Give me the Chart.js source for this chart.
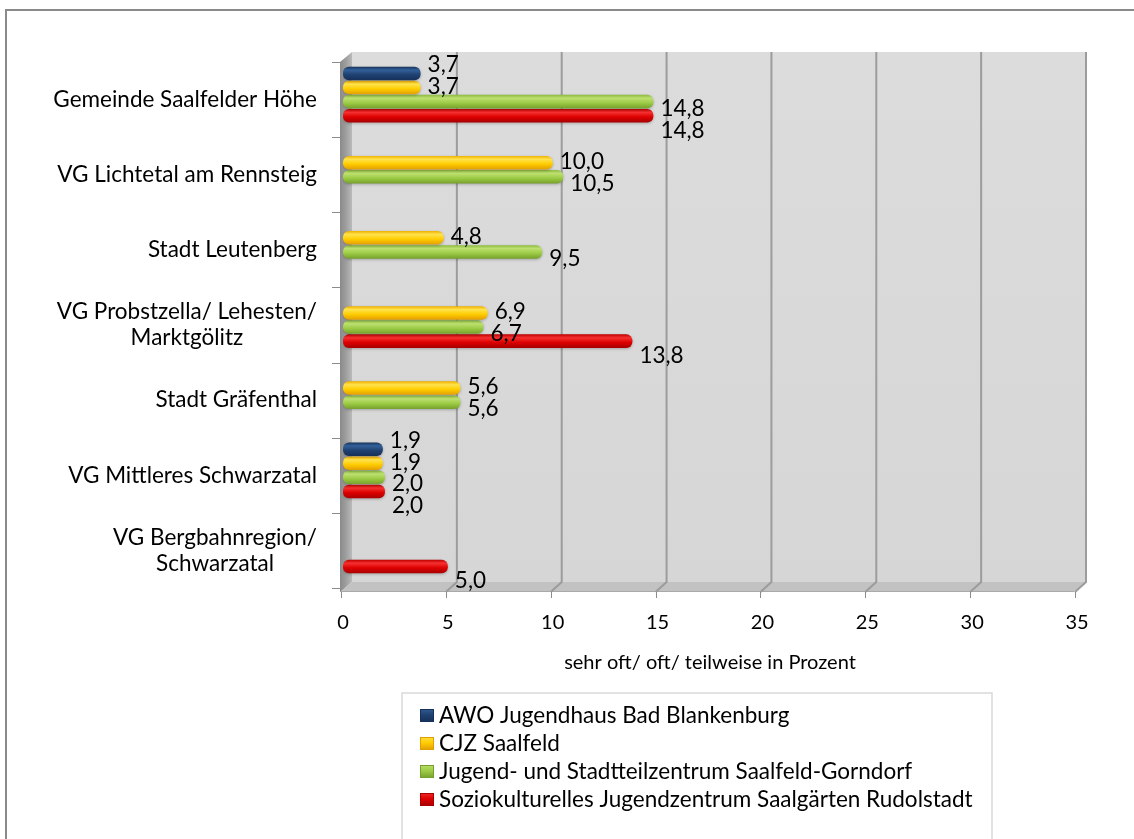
<!DOCTYPE html>
<html>
<head>
<meta charset="utf-8">
<script src="https://cdn.jsdelivr.net/npm/chart.js@4.4.0/dist/chart.umd.min.js"></script>
<style>
  html, body { margin: 0; padding: 0; background: #fff; overflow: hidden; }
  #wrap { width: 1134px; height: 839px; position: relative; }
</style>
</head>
<body>
<div id="wrap"><canvas id="c" width="1134" height="839"></canvas></div>
<script>
// Regions (top to bottom)
const categories = [
  'Gemeinde Saalfelder Höhe',
  'VG Lichtetal am Rennsteig',
  'Stadt Leutenberg',
  ['VG Probstzella/ Lehesten/', 'Marktgölitz'],
  'Stadt Gräfenthal',
  'VG Mittleres Schwarzatal',
  ['VG Bergbahnregion/', 'Schwarzatal']
];

// Youth centres
const seriesNames = [
  'AWO Jugendhaus Bad Blankenburg',
  'CJZ Saalfeld',
  'Jugend- und Stadtteilzentrum Saalfeld-Gorndorf',
  'Soziokulturelles Jugendzentrum Saalgärten Rudolstadt'
];

// Share "sehr oft / oft / teilweise" in percent
const awoValues         = [3.7, null, null, null, null, 1.9, null];
const cjzValues         = [3.7, 10.0, 4.8, 6.9, 5.6, 1.9, null];
const gorndorfValues    = [14.8, 10.5, 9.5, 6.7, 5.6, 2.0, null];
const saalgaertenValues = [14.8, null, null, 13.8, null, 2.0, 5.0];

const xTickValues = [0, 5, 10, 15, 20, 25, 30, 35];
const xAxisTitle = 'sehr oft/ oft/ teilweise in Prozent';

// ---- styling ----
const FONT = 'Lato, "Open Sans", sans-serif';
const TEXT_SIZE = 22.5;
const AXIS_SIZE = 20;
const barShades = [
  ['#173158', '#32609a', '#1f4170', '#15305a'],  // navy
  ['#eeb000', '#ffe34d', '#ffcc00', '#e29e00'],  // yellow
  ['#8cbb3e', '#bde070', '#9ccb45', '#76a02c'],  // green
  ['#c00000', '#f53030', '#dc0000', '#a80000']   // red
];

function barFill(shade) {
  return (context) => {
    const el = context.element;
    if (!el || !isFinite(el.y) || !el.height) return shade[2];
    const top = el.y - el.height / 2, bottom = el.y + el.height / 2;
    const g = context.chart.ctx.createLinearGradient(0, top, 0, bottom);
    g.addColorStop(0, shade[0]);
    g.addColorStop(0.25, shade[1]);
    g.addColorStop(0.6, shade[2]);
    g.addColorStop(1, shade[3]);
    return g;
  };
}

const fmt = (v) => v.toFixed(1).replace('.', ',');

// Depth offsets of the 3D box relative to the plotting plane
const BACK = { dx: 9, dy: -5 };
const FRONT = { dx: -3, dy: 5 };

const boxPlugin = {
  id: 'box3d',
  beforeDraw(chart) {
    const { ctx, chartArea: a } = chart;
    const xs = chart.scales.x;
    ctx.save();
    // outer frame
    ctx.strokeStyle = '#8a8a8a';
    ctx.lineWidth = 2;
    ctx.strokeRect(6, 10, 1300, 1000);

    const bl = a.left + BACK.dx, bt = a.top + BACK.dy;
    const br = a.right + BACK.dx - 1, bb = a.bottom - 1;
    const fl = a.left + FRONT.dx, ft = a.top + FRONT.dy;
    const fb = a.bottom + 9, fr = a.right - 3;

    // back wall
    const wall = ctx.createLinearGradient(0, bt, 0, bb);
    wall.addColorStop(0, '#dcdcdc');
    wall.addColorStop(1, '#d6d6d6');
    ctx.fillStyle = wall;
    ctx.fillRect(bl, bt, br - bl, bb - bt);

    // floor
    ctx.fillStyle = '#c2c2c2';
    ctx.beginPath();
    ctx.moveTo(bl, bb); ctx.lineTo(br, bb); ctx.lineTo(br, bb + 2);
    ctx.lineTo(fr, fb); ctx.lineTo(fl, fb); ctx.closePath();
    ctx.fill();
    ctx.strokeStyle = '#a9a9a9';
    ctx.lineWidth = 1;
    ctx.beginPath(); ctx.moveTo(fl, fb - 0.5); ctx.lineTo(fr, fb - 0.5); ctx.stroke();

    // side wall
    const side = ctx.createLinearGradient(fl, 0, bl, 0);
    side.addColorStop(0, '#8a8a8a');
    side.addColorStop(0.45, '#9c9c9c');
    side.addColorStop(1, '#bababa');
    ctx.fillStyle = side;
    ctx.beginPath();
    ctx.moveTo(fl, ft); ctx.lineTo(bl, bt); ctx.lineTo(bl, bb); ctx.lineTo(fl, fb);
    ctx.closePath();
    ctx.fill();

    // gridlines on the back wall and their run across the floor
    xTickValues.forEach((v) => {
      if (v === 0) return;
      const px = xs.getPixelForValue(v);
      ctx.strokeStyle = '#9c9c9c';
      ctx.lineWidth = 2;
      ctx.beginPath();
      ctx.moveTo(px + BACK.dx, bt);
      ctx.lineTo(px + BACK.dx, bb);
      ctx.lineTo(px + FRONT.dx + 1, fb);
      ctx.stroke();
    });

    // tick marks on the front edge
    ctx.strokeStyle = '#8c8c8c';
    ctx.lineWidth = 1;
    xTickValues.forEach((v) => {
      const px = Math.round(xs.getPixelForValue(v) + FRONT.dx + 1) + 0.5;
      ctx.beginPath(); ctx.moveTo(px, fb); ctx.lineTo(px, fb + 6); ctx.stroke();
    });
    const n = categories.length;
    const step = (a.bottom - a.top) / n;
    for (let i = 0; i <= n; i++) {
      const y = Math.round(a.top + FRONT.dy + i * step) + 0.5;
      ctx.beginPath(); ctx.moveTo(fl - 8, y); ctx.lineTo(fl, y); ctx.stroke();
    }
    ctx.restore();
  },
  beforeDatasetsDraw(chart) {
    const ctx = chart.ctx;
    ctx.save();
    ctx.shadowColor = 'rgba(0,0,0,0.25)';
    ctx.shadowBlur = 3;
    ctx.shadowOffsetY = 1;
  },
  afterDatasetsDraw(chart) {
    const { ctx } = chart;
    ctx.restore();
    const ys = chart.scales.y;
    ctx.save();
    ctx.fillStyle = '#000';
    ctx.font = `${TEXT_SIZE}px ${FONT}`;
    ctx.textAlign = 'left';
    ctx.textBaseline = 'middle';
    chart.data.datasets.forEach((ds, di) => {
      const meta = chart.getDatasetMeta(di);
      meta.data.forEach((bar, i) => {
        const v = ds.data[i];
        if (v === null || v === undefined) return;
        const center = ys.getPixelForValue(i);
        const ly = center + 1.55 * (bar.y - center) + 3;
        ctx.fillText(fmt(v), bar.x + 7, ly);
      });
    });
    ctx.restore();
  },
  afterDraw(chart) {
    const { ctx, chartArea: a } = chart;
    const ys = chart.scales.y;
    ctx.save();
    // category labels: block right-aligned, lines centred within the block
    ctx.fillStyle = '#000';
    ctx.font = `${TEXT_SIZE}px ${FONT}`;
    ctx.textBaseline = 'middle';
    ctx.textAlign = 'center';
    const rightEdge = a.left - 26;
    const lineH = 26;
    categories.forEach((lab, i) => {
      const lines = Array.isArray(lab) ? lab : [lab];
      const w = Math.max(...lines.map((l) => ctx.measureText(l).width));
      const cx = rightEdge - w / 2;
      const cy = ys.getPixelForValue(i) + FRONT.dy;
      lines.forEach((l, k) => {
        ctx.fillText(l, cx, cy + (k - (lines.length - 1) / 2) * lineH);
      });
    });

    // legend
    const lx = 402, ly = 693;
    ctx.strokeStyle = '#d9d9d9';
    ctx.lineWidth = 1.5;
    ctx.strokeRect(lx, ly, 590, 400);
    ctx.textAlign = 'left';
    chart.data.datasets.forEach((ds, di) => {
      const y = 715 + di * 28;
      const shade = barShades[di];
      const g = ctx.createLinearGradient(0, y - 7, 0, y + 7);
      g.addColorStop(0, shade[1]);
      g.addColorStop(0.5, shade[2]);
      g.addColorStop(1, shade[3]);
      ctx.fillStyle = g;
      ctx.fillRect(420, y - 6, 14, 13);
      ctx.strokeStyle = shade[3];
      ctx.lineWidth = 1;
      ctx.strokeRect(420.5, y - 5.5, 13, 12);
      ctx.fillStyle = '#000';
      ctx.fillText(ds.label, 439, y + 1);
    });
    ctx.restore();
  }
};

const valueSets = [awoValues, cjzValues, gorndorfValues, saalgaertenValues];

const chart = new Chart(document.getElementById('c'), {
  type: 'bar',
  data: {
    labels: categories,
    datasets: seriesNames.map((name, i) => ({
      label: name,
      data: valueSets[i],
      backgroundColor: barFill(barShades[i]),
      borderWidth: 0,
      borderRadius: 6,
      borderSkipped: false,
      categoryPercentage: 0.75,
      barPercentage: 0.96
    }))
  },
  options: {
    indexAxis: 'y',
    responsive: false,
    animation: false,
    devicePixelRatio: 1,
    layout: { padding: { left: 343, right: 57, top: 57, bottom: 0 } },
    plugins: { legend: { display: false }, tooltip: { enabled: false } },
    scales: {
      x: {
        type: 'linear',
        position: 'bottom',
        min: 0,
        max: 35,
        afterBuildTicks: (s) => { s.ticks = xTickValues.map((v) => ({ value: v })); },
        grid: { display: false, drawTicks: false },
        border: { display: false },
        ticks: {
          padding: 28,
          color: '#000',
          font: { family: FONT, size: AXIS_SIZE },
          maxRotation: 0
        },
        title: {
          display: true,
          text: xAxisTitle,
          color: '#000',
          font: { family: FONT, size: AXIS_SIZE },
          padding: { top: 0, bottom: 164 }
        },
        afterFit: (s) => { s.height = 256; }
      },
      y: {
        type: 'category',
        ticks: { display: false },
        grid: { display: false },
        border: { display: false },
        afterFit: (s) => { s.width = 0; }
      }
    }
  },
  plugins: [boxPlugin]
});
// second pass so the bar gradients follow the laid-out bars
chart.update('none');
</script>
</body>
</html>
